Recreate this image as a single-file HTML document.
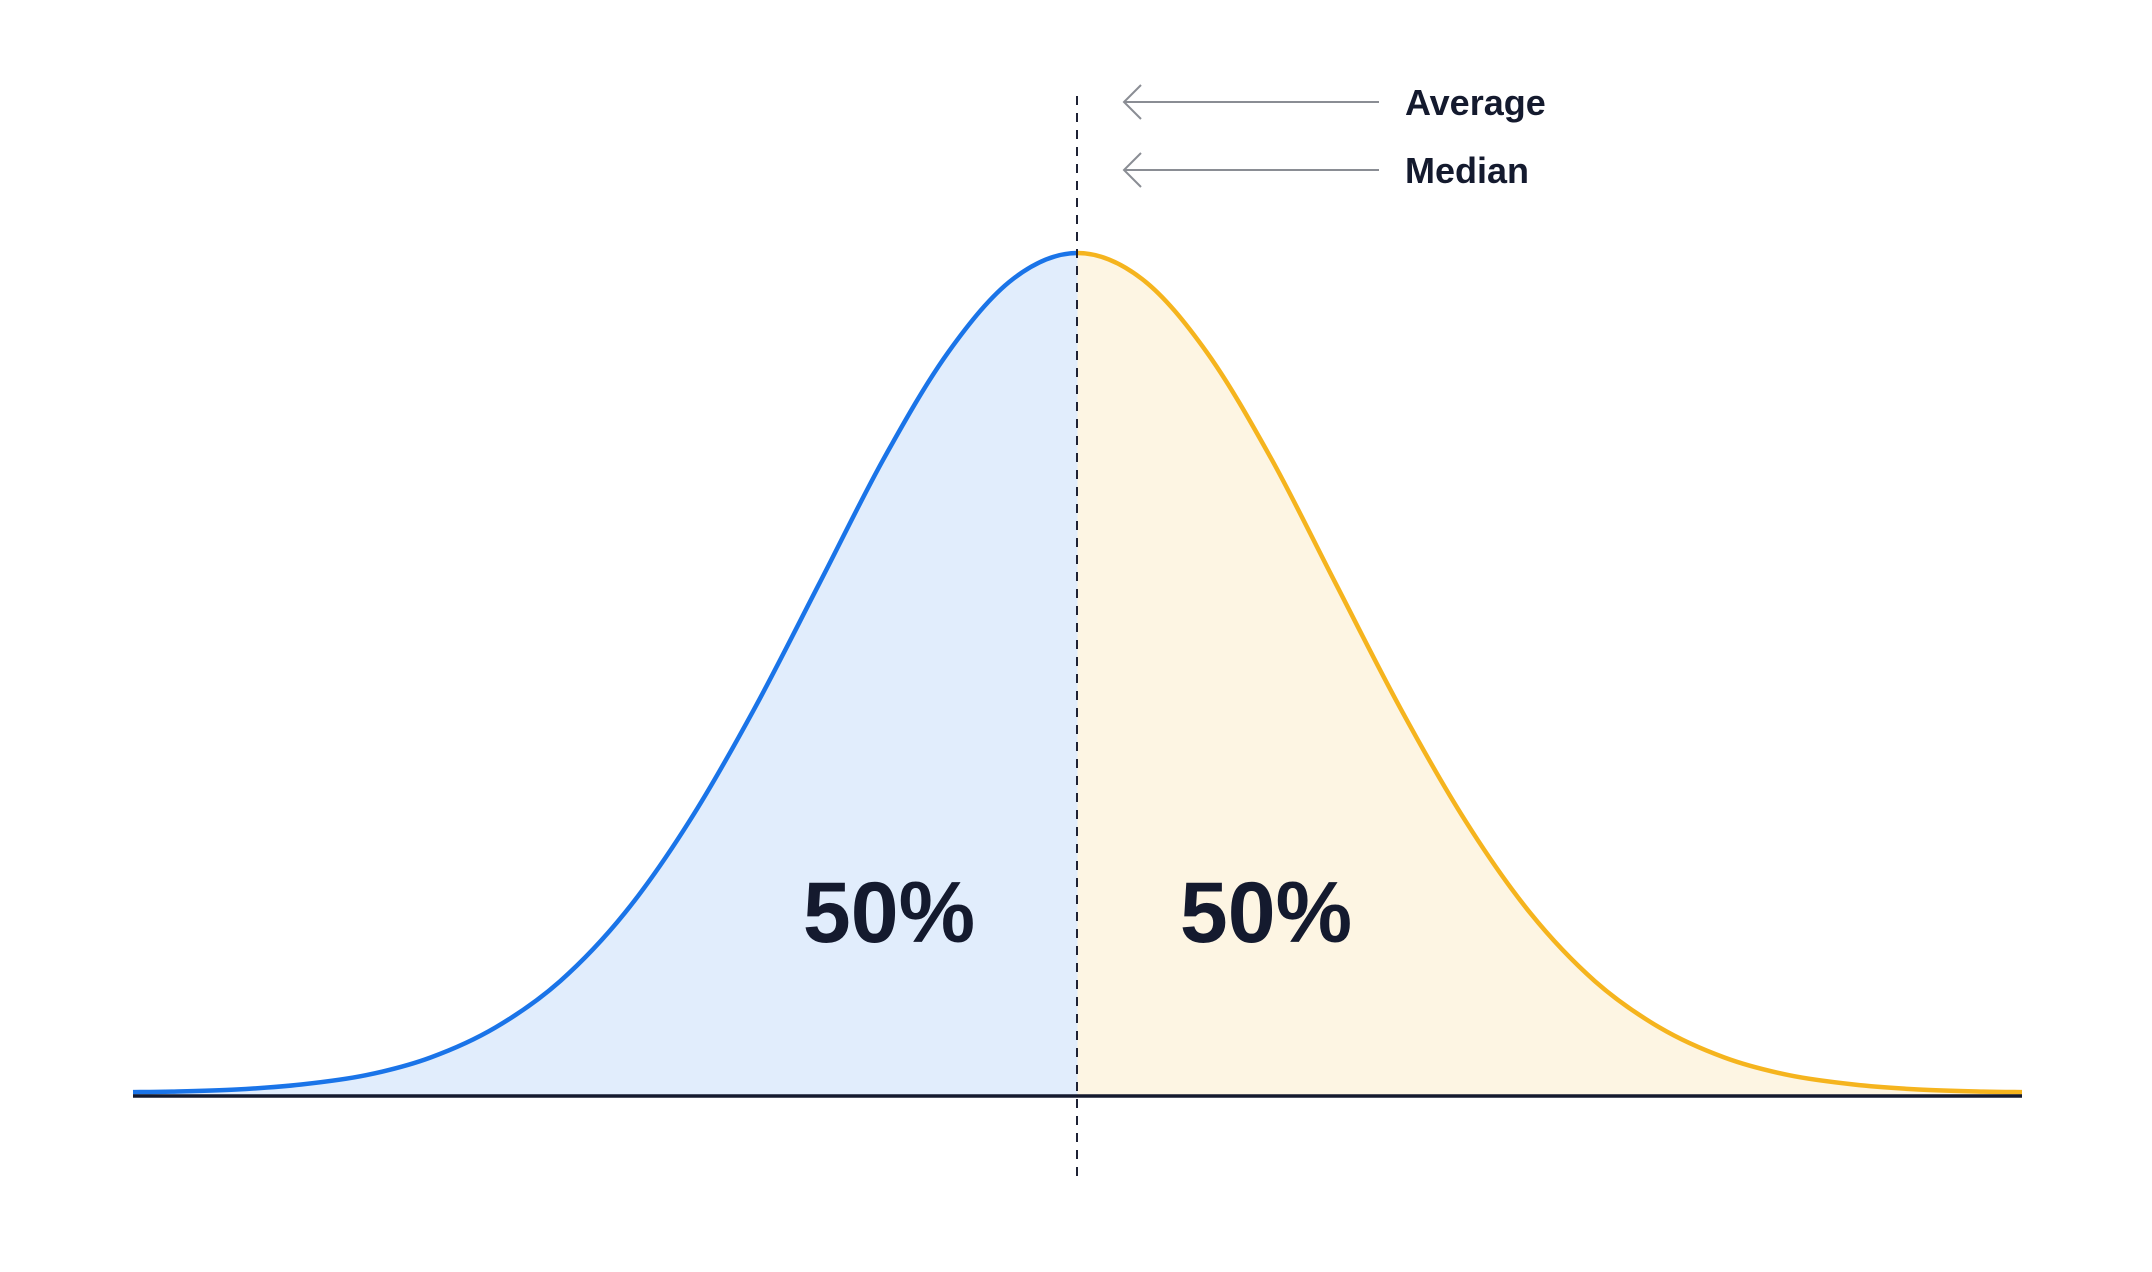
<!DOCTYPE html>
<html><head><meta charset="utf-8">
<style>
html,body{margin:0;padding:0;background:#fff;}
svg{display:block;}
text{font-family:"Liberation Sans",sans-serif;}
</style></head>
<body>
<svg id="chart" width="2152" height="1272" viewBox="0 0 2152 1272" xmlns="http://www.w3.org/2000/svg">
  <g id="fills"></g>
  <g id="lines"></g>
  <line x1="133" y1="1096" x2="2022" y2="1096" stroke="#141a2e" stroke-width="3.5"/>
  <line x1="1077" y1="96" x2="1077" y2="1180" stroke="#1e2235" stroke-width="2" stroke-dasharray="9 8"/>
  <g stroke="#8a8d94" stroke-width="2" fill="none">
    <line x1="1124" y1="102" x2="1379" y2="102"/>
    <polyline points="1141,85 1124,102 1141,119"/>
  </g>
  <g stroke="#8a8d94" stroke-width="2" fill="none">
    <line x1="1124" y1="170" x2="1379" y2="170"/>
    <polyline points="1141,153 1124,170 1141,187"/>
  </g>
  <text x="1405" y="115" font-size="36" font-weight="700" fill="#141a2e">Average</text>
  <text x="1405" y="183" font-size="36" font-weight="700" fill="#141a2e">Median</text>
  <text x="889" y="942" font-size="86" font-weight="700" fill="#141a2e" text-anchor="middle">50%</text>
  <text x="1266" y="942" font-size="86" font-weight="700" fill="#141a2e" text-anchor="middle">50%</text>
</svg>
<script>
const xValues = [-3.65,-3.5,-3.25,-3,-2.75,-2.5,-2.25,-2,-1.75,-1.5,-1.25,-1,-0.75,-0.5,-0.25,0,0.25,0.5,0.75,1,1.25,1.5,1.75,2,2.25,2.5,2.75,3,3.25,3.5,3.65];
const densityValues = [0.0035,0.004,0.0065,0.0125,0.0235,0.0445,0.08,0.135,0.216,0.325,0.458,0.606,0.755,0.882,0.969,1,0.969,0.882,0.755,0.606,0.458,0.325,0.216,0.135,0.08,0.0445,0.0235,0.0125,0.0065,0.004,0.0035];

const X0=133, X1=2022, Y0=1095, Y1=253;
function xs(v){return X0+(v-xValues[0])/(xValues[xValues.length-1]-xValues[0])*(X1-X0);}
function ys(v){return Y0-v*(Y0-Y1);}
const pts=xValues.map((x,i)=>[xs(x),ys(densityValues[i])]);
function pathRange(a,b){
  let d='M'+pts[a][0].toFixed(1)+','+pts[a][1].toFixed(1);
  for(let i=a;i<b;i++){
    const p0=pts[Math.max(0,i-1)],p1=pts[i],p2=pts[i+1],p3=pts[Math.min(pts.length-1,i+2)];
    const c1x=p1[0]+(p2[0]-p0[0])/6,c1y=p1[1]+(p2[1]-p0[1])/6;
    const c2x=p2[0]-(p3[0]-p1[0])/6,c2y=p2[1]-(p3[1]-p1[1])/6;
    d+=' C'+c1x.toFixed(1)+','+c1y.toFixed(1)+' '+c2x.toFixed(1)+','+c2y.toFixed(1)+' '+p2[0].toFixed(1)+','+p2[1].toFixed(1);
  }
  return d;
}
const NS='http://www.w3.org/2000/svg';
const mid=xValues.indexOf(0);
const fills=document.getElementById('fills'),lines=document.getElementById('lines');
[[0,mid,'#e1edfc','#1a74e8','left'],[mid,xValues.length-1,'#fdf5e3','#f5b41e','right']].forEach(([a,b,fc,sc,side])=>{
  const d=pathRange(a,b);
  const f=document.createElementNS(NS,'path');
  f.setAttribute('d',d+' L'+pts[b][0].toFixed(1)+','+Y0+' L'+pts[a][0].toFixed(1)+','+Y0+' Z');
  f.setAttribute('fill',fc);
  
  
  fills.appendChild(f);
  const l=document.createElementNS(NS,'path');
  l.setAttribute('d',d);
  l.setAttribute('fill','none');
  l.setAttribute('stroke',sc);
  l.setAttribute('stroke-width','4.5');
  
  
  lines.appendChild(l);
});
</script>
</body></html>
